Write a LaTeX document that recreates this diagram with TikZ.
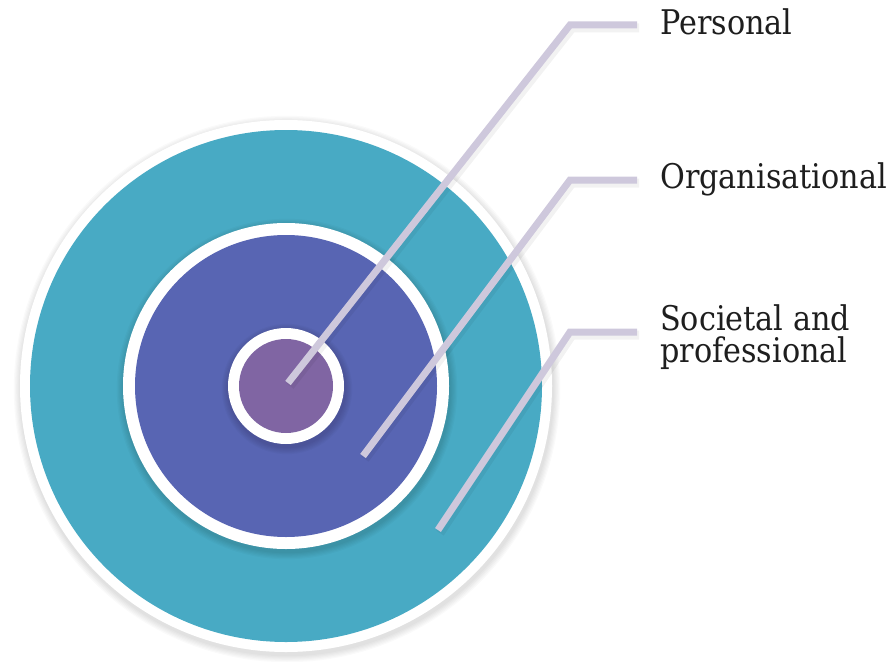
\documentclass[tikz,border=0pt]{standalone}
\usepackage{fontspec}
\setmainfont{DejaVu Serif}[FakeStretch=0.89]
\usetikzlibrary{calc}
\definecolor{teal1}{HTML}{48AAC4}
\definecolor{blue1}{HTML}{5865B3}
\definecolor{purple1}{HTML}{8065A3}
\definecolor{lav}{HTML}{CEC8DC}
\definecolor{txt}{HTML}{1E1E1E}
\begin{document}
\begin{tikzpicture}[x=1pt,y=-1pt,
  lbl/.style={anchor=base west,inner sep=0pt,font=\fontsize{34}{32}\selectfont,text=txt,align=left},
  leader/.style={draw=lav,line width=7pt,line join=miter},
  leadershadow/.style={draw=black,opacity=0.05,line width=9pt}]
\useasboundingbox (0,0) rectangle (891,661);
\coordinate (c) at (286,386);
% outer shadow
\foreach \i in {1,...,6}{\fill[black,opacity=0.018] ($(c)+(1,3)$) circle ({266+\i*1.2});}
\fill[white] (c) circle (266);
\fill[teal1] (c) circle (256);
\foreach \i in {1,...,6}{\fill[black,opacity=0.025] ($(c)+(1,3)$) circle ({163+\i*1.2});}
\fill[white] (c) circle (163);
\fill[blue1] (c) circle (151);
\foreach \i in {1,...,6}{\fill[black,opacity=0.025] ($(c)+(1,3)$) circle ({58+\i*1.2});}
\fill[white] (c) circle (58);
\fill[purple1] (c) circle (47);
% label nodes
\node[lbl] (personal) at (660,35) {Personal};
\node[lbl] (org) at (660,188) {Organisational};
\node[lbl] (soc) at (660,362) {Societal and\\professional};
% leader coordinates
\coordinate (p1) at (288,383); \coordinate (p2) at (570,25); \coordinate (p3) at (637,25);
\coordinate (o1) at (363,456); \coordinate (o2) at (570,180); \coordinate (o3) at (637,180);
\coordinate (s1) at (438,530); \coordinate (s2) at (570,332); \coordinate (s3) at (637,332);
\foreach \a/\b/\d in {p1/p2/p3,o1/o2/o3,s1/s2/s3}{
  \draw[leadershadow] ($(\a)+(2,3)$) -- ($(\b)+(2,3)$) -- ($(\d)+(2,3)$);
  \draw[leader] (\a) -- (\b) -- (\d);
}
\end{tikzpicture}
\end{document}
